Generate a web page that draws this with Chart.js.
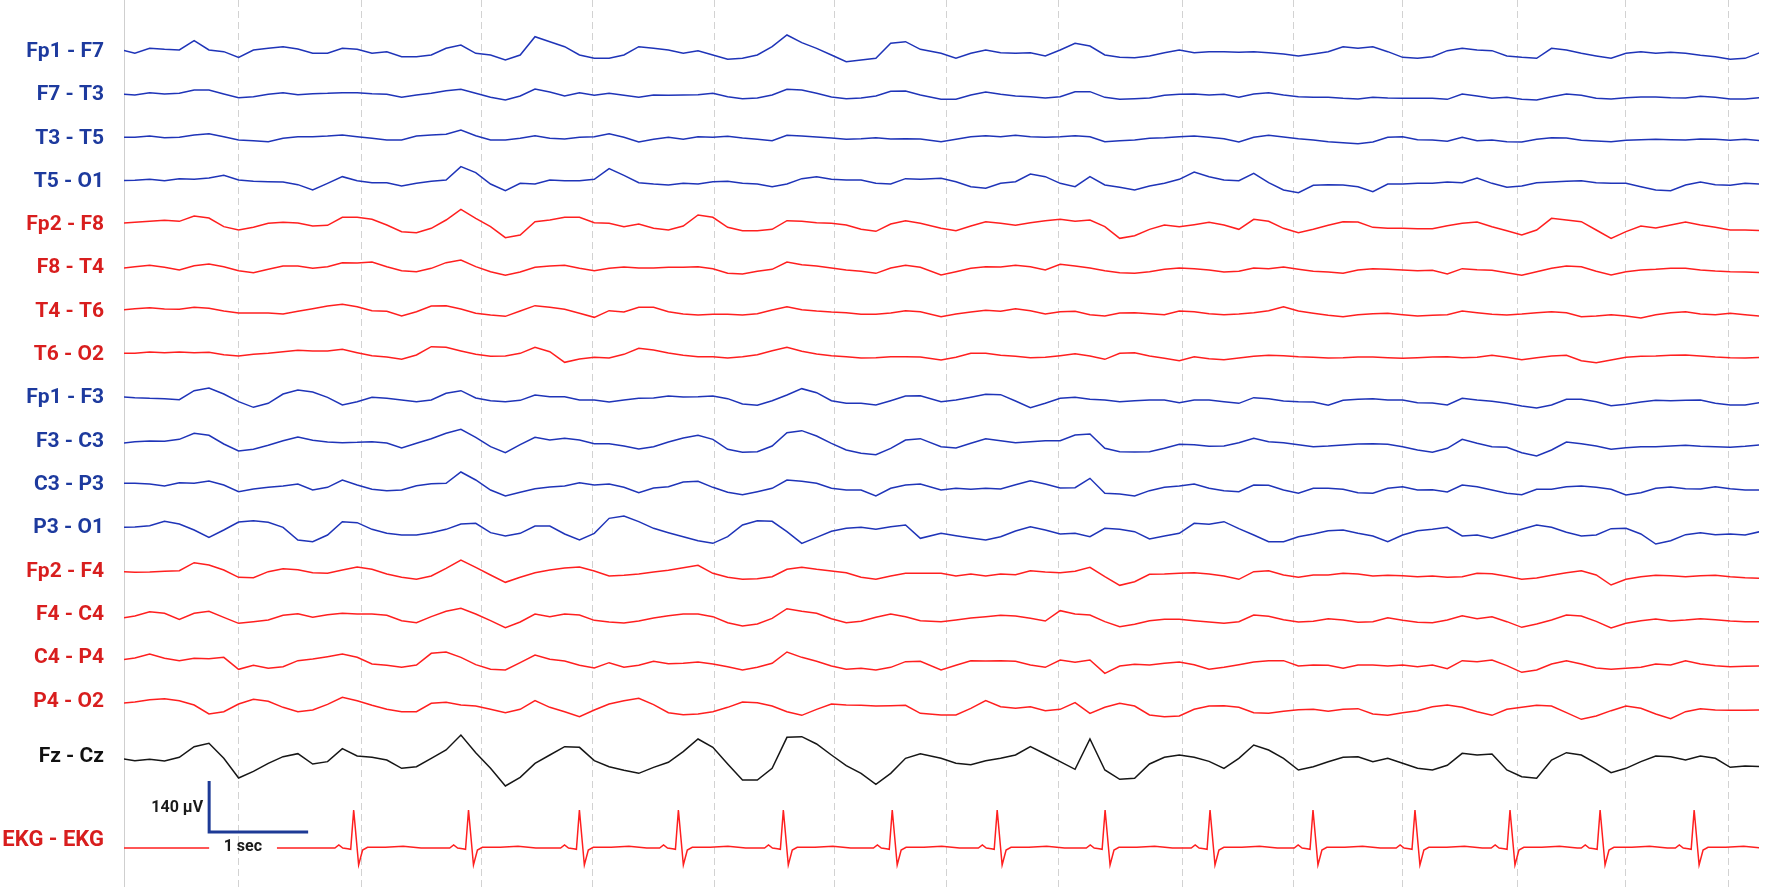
<!DOCTYPE html>
<html>
<head>
<meta charset="utf-8">
<title>EEG bipolar montage</title>
<script src="https://cdn.jsdelivr.net/npm/chart.js@4.4.1/dist/chart.umd.min.js"></script>
<style>
  html, body { margin: 0; padding: 0; background: #ffffff; }
  #wrap { width: 1774px; height: 887px; position: relative; }
</style>
</head>
<body>
<div id="wrap"><canvas id="eeg"></canvas></div>
<script>
// time axis: the record was read in two passes, ~0.15 s between readings
const FIRST_PASS = { start: -0.04, step: 0.1497, count: 55 };
const SECOND_PASS = { start: 8.253, step: 0.1504 };
const X_MAX = 16.515;

// dashed second markers (s)
const gridTimes = [1.152, 2.404, 3.616, 4.737, 5.96, 7.172, 8.303, 9.444, 10.687, 11.808, 12.909, 14.071, 15.162, 16.202];

const channelNames = ['Fp1 - F7', 'F7 - T3', 'T3 - T5', 'T5 - O1', 'Fp2 - F8', 'F8 - T4', 'T4 - T6', 'T6 - O2',
  'Fp1 - F3', 'F3 - C3', 'C3 - P3', 'P3 - O1', 'Fp2 - F4', 'F4 - C4', 'C4 - P4', 'P4 - O2', 'Fz - Cz', 'EKG - EKG'];
// baseline of each trace (display units, bottom = 0)
const channelBaselines = [2506, 2376, 2246, 2115, 1986, 1857, 1725, 1596, 1467, 1335, 1206, 1077, 945, 816, 687, 555, 390, 117];
const labelLevels = [2506, 2376, 2246, 2115, 1986, 1857, 1725, 1596, 1467, 1335, 1206, 1077, 945, 816, 687, 555, 390, 141];

// amplitudes, relative to each baseline
const fp1F7 = [7,-5,10,7,5,33,5,0,-17,5,10,15,8,-5,-5,10,7,-5,0,-15,-15,-10,10,20,-5,-10,-25,-10,45,30,15,-10,-20,-20,-10,15,10,5,-5,3,-10,-23,-20,-10,15,50,27,10,-10,-30,-25,-20,25,30,7,
  -5,-20,-5,5,-3,-5,-3,-13,5,25,17,-10,-17,-18,-13,-3,5,-3,0,0,-2,0,-3,-7,-13,-7,0,15,10,15,0,-17,-20,-15,3,10,5,3,-13,-17,-20,10,5,-5,-13,-20,-5,0,-5,-2,-5,-11,-15,-23,-20,-3];
const f7T3 = [3,0,7,3,5,15,15,3,-8,-5,2,7,1,4,5,7,7,4,2,-7,0,5,13,17,5,-7,-15,-3,18,9,-3,7,-1,5,-1,-7,0,-1,0,1,5,-5,-11,-9,0,17,15,5,-6,-11,-9,-3,11,12,0,
  -13,-13,0,9,2,-3,-5,-9,-5,10,10,-7,-13,-11,-9,-1,2,3,0,2,-7,3,7,0,-5,-7,-7,-10,-12,-7,-9,-10,-10,-10,-13,3,-3,-10,-7,-13,-15,-5,3,-1,-10,-12,-8,-6,-6,-8,-9,-4,-7,-12,-12,-8];
const t3T5 = [3,3,7,2,3,10,14,5,-5,-7,-10,0,5,5,7,10,5,0,-5,-5,7,10,12,25,8,-5,-5,0,8,0,-2,3,5,14,3,-11,-3,3,-3,5,3,6,1,-3,-7,9,7,4,1,-3,-1,2,-2,-1,-2,
  -10,-3,5,8,5,9,5,3,5,8,5,-10,-7,-5,0,2,5,7,3,-1,-11,3,9,4,-1,-5,-10,-13,-16,-11,3,5,-4,-5,-9,3,-7,-5,-10,-11,-3,2,1,-6,-8,-10,-6,-4,-3,-4,-5,-2,-3,-6,-3,-7];
const t5O1 = [4,5,8,4,10,8,12,20,6,2,1,0,-8,-24,-4,16,4,-2,-2,-12,-4,2,6,46,28,-6,-26,-4,-6,6,4,4,8,40,20,-2,-6,-9,-4,-6,1,2,-4,-6,-14,-6,10,16,8,6,6,-4,-6,10,8,
  11,1,-14,-19,-4,1,24,16,-4,-14,16,-9,-16,-24,-12,-4,8,30,16,6,4,26,-2,-24,-32,-10,-8,-9,-14,-29,-6,-6,-4,-4,0,-2,12,-4,-16,-12,-2,0,2,4,-2,-4,-4,-14,-24,-26,-9,0,-8,-10,-4,-6];
const fp2F8 = [5,8,11,14,11,27,21,-5,-15,-7,5,8,6,-3,-1,23,23,17,0,-20,-23,-10,15,47,20,-5,-38,-30,10,15,23,23,7,5,-5,3,-10,-15,-3,30,23,-7,-17,-17,-13,13,11,7,5,0,-13,-19,3,13,5,
  -10,-17,-3,10,5,-1,7,13,17,11,15,-5,-40,-32,-13,0,-5,1,8,0,-13,17,11,-10,-23,-13,-1,10,9,-7,-10,-10,-11,-11,-2,5,9,-5,-17,-30,-15,20,15,10,-15,-40,-20,-3,-9,0,9,0,-7,-15,-15,-17];
const f8T4 = [-1,4,8,2,-6,7,12,4,-8,-14,-4,6,6,-1,4,16,15,18,4,-8,-11,-1,16,24,4,-11,-22,-12,2,6,8,-1,-8,-1,3,0,0,2,2,4,-2,-16,-18,-10,-4,18,10,6,0,-6,-10,-16,0,8,2,
  -21,-11,-1,4,3,8,4,-6,11,6,0,-8,-14,-16,-11,-4,0,-2,-6,-12,-10,0,-2,3,-4,-10,-12,-16,-6,-2,-4,-6,-8,-7,-18,-2,-5,-7,-14,-22,-11,-1,6,4,-10,-21,-11,-6,-4,-1,-1,-6,-9,-11,-12,-14];
const t4T6 = [6,10,13,9,8,14,11,3,-3,-3,-3,-6,2,10,18,23,16,4,2,-12,1,18,19,9,-4,-9,-13,3,19,14,8,-4,-16,4,0,14,14,1,-6,-9,-7,-7,-9,-5,6,16,7,3,0,-2,-7,-7,-3,4,1,
  -14,-6,0,5,2,10,4,-6,1,2,-8,-12,-3,-2,-5,-8,3,1,-5,-8,-6,-2,4,16,3,-4,-10,-14,-8,-5,-4,-8,-12,-10,-8,3,-2,-7,-9,-6,-2,1,-2,-14,-12,-8,-12,-18,-8,-2,1,-6,-8,-4,-8,-12];
const t6O2 = [5,5,9,7,9,7,8,1,-3,2,5,10,14,12,12,17,7,-2,-6,-13,0,25,23,12,2,-4,-3,5,23,10,-22,-12,-7,-9,2,20,15,6,-1,-5,-5,-9,-5,1,13,23,11,3,-2,-5,-9,-8,-5,-5,-6,
  -15,-7,5,5,-1,-4,-8,-7,-2,4,-3,-13,5,7,-3,-10,-17,-5,-11,-14,-9,-4,-1,-2,-5,-7,-9,-8,-6,-6,-8,-10,-8,-6,-5,-8,-7,-1,-7,-14,-8,-3,-1,-17,-23,-15,-7,-4,-3,-1,0,-3,-6,-8,-9,-7];
const fp1F3 = [4,1,-1,-2,-5,22,30,12,-11,-28,-16,12,24,18,2,-21,-11,2,-1,-6,-11,-6,14,22,0,-8,-11,-7,9,4,4,-6,-6,-12,-6,-1,0,6,3,4,6,-2,-18,-22,-8,9,28,16,-8,-16,-16,-21,-8,6,7,
  -11,-6,2,11,10,-9,-29,-16,-1,2,-4,-6,-11,-8,-6,-6,-14,-6,-6,-11,-16,1,-2,-9,-11,-12,-22,-7,-4,-2,-6,-6,-14,-15,-21,-1,-6,-10,-16,-24,-30,-21,-4,-4,-11,-23,-19,-12,-7,-8,-7,-6,-16,-21,-21,-14];
const f3C3 = [-4,1,3,2,8,26,20,-6,-27,-22,-10,4,15,5,0,-2,-1,1,-3,-18,-4,10,26,38,14,-14,-32,-8,14,6,11,6,-5,-5,-12,-21,-14,0,12,20,8,-22,-31,-29,-12,28,34,18,-4,-24,-34,-38,-19,6,10,
  -14,-18,-4,10,4,-2,1,4,4,21,24,-19,-29,-30,-29,-19,-7,-8,-13,-12,-2,11,1,-2,-8,-14,-12,-9,-6,-5,-7,-14,-24,-31,-19,8,-4,-14,-16,-32,-42,-24,0,-5,-12,-22,-17,-14,-14,-12,-10,-13,-14,-16,-13,-9];
const c3P3 = [5,5,3,-3,7,5,12,0,-20,-12,-7,-3,3,-15,-7,15,0,-13,-17,-15,-2,4,5,39,15,-15,-33,-22,-11,-6,-3,7,0,3,-7,-23,-9,-5,9,11,-7,-22,-29,-20,-10,15,11,5,-10,-15,-15,-33,-10,0,3,
  -15,-10,-13,-10,-12,1,13,3,-9,-8,20,-25,-27,-33,-17,-7,-3,3,-10,-17,-20,0,-1,-15,-25,-10,-10,-13,-23,-25,-10,-5,-15,-14,-21,0,-5,-15,-25,-29,-13,-13,-5,-3,-7,-13,-30,-23,-10,-6,-11,-12,-5,-11,-15,-15];
const p3O1 = [2,3,7,20,12,-6,-28,-6,18,22,17,2,-36,-41,-21,19,16,-4,-16,-21,-21,-14,-4,12,14,-14,-24,-16,6,6,-18,-36,-16,29,36,19,-1,-14,-26,-38,-46,-26,9,22,20,-11,-46,-28,-10,-1,2,-4,4,9,-31,
  -16,-23,-30,-36,-26,-9,4,-6,-18,-16,-26,-1,-4,-11,-33,-24,-16,14,11,19,-2,-21,-41,-41,-26,-18,-8,-6,-16,-24,-41,-21,-8,-4,2,-24,-21,-31,-18,-4,9,2,-13,-24,-21,-2,-1,-18,-48,-38,-20,-14,-20,-18,-21,-11];
const fp2F4 = [1,-1,0,2,4,28,21,6,-16,-17,1,10,7,-2,-4,6,15,8,-6,-16,-22,-12,11,36,14,-9,-31,-16,-2,6,12,15,3,-12,-10,-6,0,5,13,20,-4,-16,-22,-20,-14,8,14,8,3,-2,-16,-22,-12,-4,-4,
  -4,-12,-6,-12,-6,-8,4,0,-2,2,14,-14,-40,-29,-7,-6,-4,-2,-6,-12,-22,1,4,-9,-16,-9,-9,-4,-6,-12,-10,-11,-14,-12,-16,-14,-4,-5,-13,-22,-18,-10,-2,4,-9,-39,-22,-14,-10,-11,-14,-11,-10,-14,-17,-19];
const f4C4 = [-10,-3,10,5,-13,5,11,-7,-25,-20,-15,-1,4,-7,1,5,3,3,-1,-17,-23,-5,11,20,3,-17,-38,-21,3,-5,3,0,-16,-21,-24,-18,-9,-2,3,3,-5,-23,-33,-27,-10,19,11,5,-11,-23,-19,-7,3,-5,-17,
  -20,-15,-9,-5,-1,-3,-10,-18,13,3,0,-20,-35,-28,-17,-13,-13,-17,-21,-25,-20,0,-4,-14,-21,-19,-11,-15,-22,-20,-8,-16,-22,-23,-15,-2,-11,-5,-20,-37,-27,-15,0,-3,-19,-39,-25,-17,-12,-18,-15,-11,-14,-18,-20,-20];
const c4P4 = [-6,0,12,-1,-8,-1,-2,2,-34,-22,-31,-26,-8,-3,4,12,2,-18,-22,-28,-21,14,18,2,-20,-34,-36,-14,9,-4,-9,-22,-30,-14,-28,-22,-10,-17,-16,-12,-18,-26,-36,-28,-16,18,2,-10,-24,-34,-31,-36,-28,-11,-10,
  -36,-22,-8,-9,-8,-10,-21,-28,-6,-13,-6,-46,-24,-19,-21,-16,-12,-20,-34,-28,-20,-12,-8,-8,-24,-21,-22,-31,-21,-21,-24,-21,-26,-21,-32,-8,-11,-6,-23,-43,-36,-18,-8,-18,-30,-34,-31,-28,-18,-21,-8,-18,-23,-26,-25,-24];
const p4O2 = [-4,0,7,10,4,-9,-36,-29,-6,8,2,-16,-29,-24,-7,14,4,-10,-22,-29,-29,-4,-1,-9,-12,-22,-32,-22,4,-16,-29,-44,-24,-6,4,11,-8,-32,-38,-36,-29,-16,0,-2,-12,-29,-40,-22,-6,-9,-10,-12,-11,-10,-34,
  -39,-39,-19,4,-14,-19,-14,-26,-22,-2,-34,-16,-4,-12,-39,-44,-42,-22,-12,-11,-16,-32,-34,-28,-23,-22,-28,-22,-20,-36,-40,-32,-26,-14,-9,-16,-29,-40,-22,-16,-10,-12,-32,-52,-42,-26,-12,-19,-36,-50,-29,-20,-24,-25,-25,-24];
const fzCz = [-4,-11,-7,-12,-1,31,41,-4,-63,-43,-19,1,10,-21,-14,25,3,-1,-9,-34,-29,-4,21,66,13,-34,-87,-61,-19,6,31,29,-11,-29,-40,-49,-31,-16,16,54,29,-21,-69,-69,-34,59,61,39,6,-26,-49,-82,-49,-4,10,
  -4,-19,-23,-11,-4,6,31,9,-14,-37,54,-39,-67,-64,-21,-1,6,-1,-13,-34,-4,36,21,-4,-39,-29,-14,-1,1,-14,-4,-19,-34,-39,-25,11,6,9,-39,-59,-64,-9,13,6,-19,-47,-34,-14,3,1,-9,3,-4,-31,-27,-29];

// EKG: R-wave times (s) and one beat
const rPeakTimes = [2.32, 3.48, 4.6, 5.6, 6.66, 7.76, 8.82, 9.91, 10.97, 12.01, 13.04, 14.0, 14.91, 15.86];
const beatOffsets = [-0.19, -0.15, -0.11, -0.06, -0.03, 0, 0.05, 0.09, 0.14, 0.32, 0.5, 0.68];
const beatShape = [0, 9, 0, -2, -4, 114, -51, -6, 2, 2, 5, 0];
const ekgGap = [0.86, 1.545];

// calibration bar: 1 sec wide, 140 µV tall
const scaleBarTimes = [0.86, 0.86, 1.86];
const scaleBarLevels = [318, 165, 165];

const eegTraces = [fp1F7, f7T3, t3T5, t5O1, fp2F8, f8T4, t4T6, t6O2, fp1F3, f3C3, c3P3, p3O1, fp2F4, f4C4, c4P4, p4O2, fzCz];
const BLUE = '#1f34b8', RED = '#ff1f1f', BLACK = '#161616';
const traceColors = [BLUE, BLUE, BLUE, BLUE, RED, RED, RED, RED, BLUE, BLUE, BLUE, BLUE, RED, RED, RED, RED, BLACK, RED];
const labelColors = traceColors.map(c => c === BLUE ? '#1d3a9e' : c === RED ? '#d81e1e' : '#111111');

const sampleTimes = fp1F7.map((_, i) => i < FIRST_PASS.count
  ? FIRST_PASS.start + i * FIRST_PASS.step
  : SECOND_PASS.start + (i - FIRST_PASS.count) * SECOND_PASS.step);

const datasets = eegTraces.map((vals, c) => ({
  label: channelNames[c],
  data: vals.map((v, i) => ({ x: sampleTimes[i], y: channelBaselines[c] + v })),
  borderColor: traceColors[c],
  borderWidth: 1.5,
  pointRadius: 0,
  tension: 0
}));

// EKG trace with a gap for the "1 sec" caption
const ekgBase = channelBaselines[17];
const ekgData = [
  { x: 0, y: ekgBase },
  { x: ekgGap[0], y: ekgBase },
  { x: (ekgGap[0] + ekgGap[1]) / 2, y: null },
  { x: ekgGap[1], y: ekgBase }
];
rPeakTimes.forEach(t => {
  beatOffsets.forEach((o, j) => ekgData.push({ x: t + o, y: ekgBase + beatShape[j] }));
});
ekgData.push({ x: X_MAX, y: ekgBase });

datasets.push({
  label: channelNames[17],
  data: ekgData,
  borderColor: RED,
  borderWidth: 1.5,
  pointRadius: 0,
  tension: 0,
  spanGaps: false
});

datasets.push({
  label: 'scale',
  data: scaleBarTimes.map((t, i) => ({ x: t, y: scaleBarLevels[i] })),
  borderColor: '#1d3a96',
  borderWidth: 3,
  borderJoinStyle: 'miter',
  pointRadius: 0,
  tension: 0
});

// captions of the calibration bar
const calibText = {
  id: 'calibText',
  afterDatasetsDraw(chart) {
    const { ctx, scales: { x, y } } = chart;
    ctx.save();
    ctx.fillStyle = '#1a1a1a';
    ctx.font = 'bold 16px Roboto, "Liberation Sans", sans-serif';
    ctx.textBaseline = 'middle';
    ctx.textAlign = 'right';
    ctx.fillText('140 µV', x.getPixelForValue(0.8), y.getPixelForValue(237));
    ctx.textAlign = 'center';
    ctx.fillText('1 sec', x.getPixelForValue(1.2), y.getPixelForValue(120));
    ctx.restore();
  }
};

new Chart(document.getElementById('eeg'), {
  type: 'line',
  data: { datasets },
  options: {
    responsive: true,
    maintainAspectRatio: false,
    animation: false,
    events: [],
    layout: { padding: { left: 0, right: 15, top: 0, bottom: 0 } },
    plugins: {
      legend: { display: false },
      tooltip: { enabled: false }
    },
    scales: {
      x: {
        type: 'linear',
        min: 0,
        max: X_MAX,
        afterBuildTicks: scale => { scale.ticks = gridTimes.map(v => ({ value: v })); },
        ticks: { display: false },
        grid: { color: '#d2d2d2', lineWidth: 1, drawTicks: false, borderDash: [7, 4] },
        border: { display: false, dash: [7, 4] }
      },
      y: {
        type: 'linear',
        min: 0,
        max: 2661,
        afterFit: scale => {
          scale.width = 124;
          // labels sit inside the record, no extra room above/below
          scale.paddingTop = 0;
          scale.paddingBottom = 0;
        },
        afterBuildTicks: scale => { scale.ticks = labelLevels.map(v => ({ value: v })); },
        ticks: {
          autoSkip: false,
          padding: 20,
          callback: (value, index) => channelNames[index],
          color: ctx => labelColors[ctx.index],
          font: ctx => ({ family: 'Roboto, "Liberation Sans", sans-serif', size: ctx.index === 17 ? 22 : 21, weight: 'bold' })
        },
        grid: { display: false, drawTicks: false },
        border: { display: true, color: '#cfcfcf', width: 1 }
      }
    }
  },
  plugins: [calibText]
});
</script>
</body>
</html>
